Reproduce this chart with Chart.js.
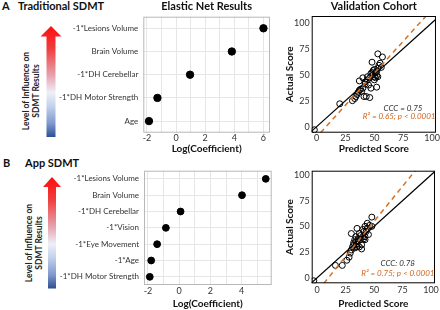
<!DOCTYPE html>
<html>
<head>
<meta charset="utf-8">
<script src="https://cdn.jsdelivr.net/npm/chart.js@4.4.1/dist/chart.umd.min.js"></script>
<style>
  body { margin: 0; background: #fff; }
  #fig { position: relative; width: 440px; height: 310px; overflow: hidden; font-family: Lato, "Open Sans", sans-serif; color: #111; }
  #fig canvas, #fig svg { position: absolute; }
  .panel { position: absolute; font-weight: bold; font-size: 11px; line-height: 12px; white-space: nowrap; }
  .influence { position: absolute; width: 110px; height: 20px; font-weight: bold; font-size: 8.5px; line-height: 10px;
               text-align: center; white-space: nowrap; transform: rotate(-90deg); color: #222; }
</style>
</head>
<body>
<div id="fig">
  <svg width="440" height="310" style="left:0;top:0">
    <defs>
      <linearGradient id="heat" x1="0" y1="0" x2="0" y2="1">
        <stop offset="0" stop-color="#ff0d0d"/>
        <stop offset="0.2" stop-color="#f03c3c"/>
        <stop offset="0.45" stop-color="#e6a5b0"/>
        <stop offset="0.6" stop-color="#eef0f8"/>
        <stop offset="0.72" stop-color="#c4d2ec"/>
        <stop offset="0.88" stop-color="#7f98cc"/>
        <stop offset="1" stop-color="#2c4f92"/>
      </linearGradient>
    </defs>
    <polygon fill="url(#heat)" points="51,26 61.5,36.5 55.5,36.5 55.5,137 46.5,137 46.5,36.5 40.5,36.5"/>
    <polygon fill="url(#heat)" points="52,177 61,187 56,187 56,288.5 48,288.5 48,187 43,187"/>
  </svg>

  <div class="panel" style="left:2px;top:0px">A</div>
  <div class="panel" style="left:18px;top:0px">Traditional SDMT</div>
  <div class="panel" style="left:3px;top:157px">B</div>
  <div class="panel" style="left:25px;top:157px">App SDMT</div>
  <div class="influence" style="left:-23.7px;top:80.7px">Level of Influence on<br>SDMT Results</div>
  <div class="influence" style="left:-21.3px;top:232.6px">Level of Influence on<br>SDMT Results</div>

  <canvas id="dotA" width="240" height="156" style="left:40px;top:0px"></canvas>
  <canvas id="dotB" width="240" height="154" style="left:40px;top:156px"></canvas>
  <canvas id="valA" width="160" height="156" style="left:280px;top:0px"></canvas>
  <canvas id="valB" width="160" height="154" style="left:280px;top:156px"></canvas>
</div>

<script>
// elastic net coefficients
const tradLabels = ['-1*Lesions Volume', 'Brain Volume', '-1*DH Cerebellar', '-1*DH Motor Strength', 'Age'];
const tradCoef = [6.0, 3.83, 0.96, -1.28, -1.86];
const appLabels = ['-1*Lesions Volume', 'Brain Volume', '-1*DH Cerebellar', '-1*Vision', '-1*Eye Movement', '-1*Age', '-1*DH Motor Strength'];
const appCoef = [5.54, 4.02, 0.09, -0.85, -1.41, -1.79, -1.88];

// validation cohort (predicted, actual)
const tradPredicted = [20, 31, 33, 34, 36, 37, 38, 39, 40, 37, 40, 42, 44, 41, 43, 46, 45, 47, 46, 44, 47, 48, 49, 50, 51, 50, 52, 48, 50, 52, 53, 54, 55, 53, 57, 56, 51, 49, 52, 53, 42, 35, -2];
const tradActual    = [22, 25, 27, 29, 33, 35, 36, 34, 37, 44, 47, 43, 45, 29, 29, 28, 40, 37, 47, 48, 51, 52, 50, 48, 47, 45, 38, 62, 55, 53, 56, 59, 61, 70, 67, 57, 52, 54, 49, 48, 41, 31, -3];
const appPredicted = [16, 22, 26, 28, 29, 30, 31, 32, 30, 33, 35, 36, 37, 38, 39, 39, 35, 40, 41, 42, 42, 44, 44, 45, 46, 48, 42, 33, 34, 37, 32, 34, 36, 38, 40, 43, 41, 35, 48, -3];
const appActual    = [12, 12, 17, 20, 24, 27, 30, 32, 43, 29, 33, 36, 30, 37, 32, 28, 48, 40, 45, 50, 37, 48, 53, 42, 51, 59, 40, 37, 40, 43, 34, 35, 38, 41, 47, 45, 38, 30, 50, -3];

// identity line and fitted line ends (where they leave the frame)
const identityLine = [-10, 110];
const tradFitLine = [[3.4, -5.8], [94.8, 106.4]];
const appFitLine = [[5.8, -5.5], [86.1, 104.2]];

const tradNotes = [['CCC = 0.75', '#333', 13.5, 24.5], ['R\u00b2 = 0.65; p < 0.0001', '#d4661b', 0.5, 16]];
const appNotes = [['CCC: 0.78', '#333', 20, 20], ['R\u00b2 = 0.75; p < 0.0001', '#d4661b', 0.5, 10]];

Chart.defaults.font.family = 'Lato, "Open Sans", sans-serif';
Chart.defaults.color = '#333';
Chart.defaults.animation = false;

const frame = {
  id: 'frame',
  afterDatasetsDraw(chart, args, opts) {
    const { ctx, chartArea: a } = chart;
    ctx.save();
    ctx.strokeStyle = opts.color;
    ctx.lineWidth = 1;
    ctx.strokeRect(a.left + 0.5, a.top + 0.5, a.right - a.left - 1, a.bottom - a.top - 1);
    ctx.restore();
  }
};

const notes = {
  id: 'notes',
  afterDraw(chart, args, opts) {
    const { ctx, chartArea: a } = chart;
    ctx.save();
    ctx.font = 'italic 8px Lato, "Open Sans", sans-serif';
    ctx.textAlign = 'right';
    ctx.textBaseline = 'middle';
    (opts.lines || []).forEach(([text, color, dx, dy]) => {
      ctx.fillStyle = color;
      ctx.fillText(text, a.right - dx, a.bottom - dy);
    });
    ctx.restore();
  }
};

// force axis thickness so the plot boxes land where the figure has them
function fixSize(size) {
  return (scale) => {
    if (scale.isHorizontal()) scale.height = size;
    else scale.width = size;
  };
}

function dotPlot(id, labels, values, o) {
  new Chart(document.getElementById(id), {
    type: 'line',
    data: {
      labels: labels,
      datasets: [{
        data: values,
        showLine: false,
        pointRadius: o.r,
        pointHoverRadius: o.r,
        pointBackgroundColor: '#000',
        pointBorderColor: '#000',
      }],
    },
    options: {
      indexAxis: 'y',
      responsive: false,
      layout: { padding: o.pad },
      plugins: {
        legend: { display: false },
        tooltip: { enabled: false },
        title: {
          display: !!o.title,
          text: o.title || '',
          fullSize: false,
          color: '#111',
          font: { size: 11, weight: 'bold' },
          padding: { top: 0, bottom: 3.5 },
        },
        frame: { color: '#b8b8b8' },
      },
      scales: {
        x: {
          type: 'linear',
          min: o.min,
          max: o.max,
          afterFit: fixSize(o.xh),
          border: { display: false },
          grid: { color: '#e6e6e6', drawTicks: false },
          ticks: {
            stepSize: 1,
            includeBounds: false,
            padding: o.tp,
            font: { size: 9 },
            callback: (v) => (v % 2 === 0 ? v : ''),
          },
          title: {
            display: true,
            text: 'Log(Coefficient)',
            color: '#111',
            font: { size: 10, weight: 'bold' },
            padding: { top: 0, bottom: o.tpb },
          },
        },
        y: {
          type: 'category',
          offset: true,
          afterFit: fixSize(o.yw),
          border: { display: false },
          grid: { color: '#e6e6e6', drawTicks: false },
          ticks: { padding: 5, font: { size: 8 }, color: '#333' },
        },
      },
    },
    plugins: [frame],
  });
}

function scatterPlot(id, xs, ys, fitLine, lines, o) {
  const points = xs.map((x, i) => ({ x: x, y: ys[i] }));
  new Chart(document.getElementById(id), {
    type: 'scatter',
    data: {
      datasets: [
        {
          data: fitLine.map(([x, y]) => ({ x, y })),
          showLine: true,
          pointRadius: 0,
          borderColor: '#d86f1e',
          borderWidth: 1.5,
          borderDash: [5, 4],
        },
        {
          data: identityLine.map((v) => ({ x: v, y: v })),
          showLine: true,
          pointRadius: 0,
          borderColor: '#000',
          borderWidth: 1.2,
        },
        {
          data: points,
          pointRadius: 3,
          pointHoverRadius: 3,
          borderColor: '#000',
          backgroundColor: 'rgba(255,255,255,0)',
          borderWidth: 1,
        },
      ],
    },
    options: {
      responsive: false,
      layout: { padding: o.pad },
      plugins: {
        legend: { display: false },
        tooltip: { enabled: false },
        title: {
          display: !!o.title,
          text: o.title || '',
          fullSize: false,
          color: '#111',
          font: { size: 11, weight: 'bold' },
          padding: { top: 0, bottom: 2.8 },
        },
        frame: { color: '#000' },
        notes: { lines: lines },
      },
      scales: {
        x: {
          type: 'linear',
          position: 'bottom',
          min: o.xmin,
          max: o.xmax,
          afterFit: fixSize(o.xh),
          border: { display: false },
          grid: { display: false, drawTicks: false },
          ticks: { stepSize: 25, includeBounds: false, padding: o.tp, font: { size: 9 } },
          title: {
            display: true,
            text: 'Predicted Score',
            color: '#111',
            font: { size: 10, weight: 'bold' },
            padding: { top: 0, bottom: o.tpb },
          },
        },
        y: {
          type: 'linear',
          position: 'left',
          min: o.ymin,
          max: o.ymax,
          afterFit: fixSize(31.7),
          border: { display: false },
          grid: { display: false, drawTicks: false },
          ticks: { stepSize: 25, includeBounds: false, padding: 2, font: { size: 9 } },
          title: {
            display: true,
            text: 'Actual Score',
            color: '#111',
            font: { size: 10, weight: 'bold' },
            padding: { top: 3.7, bottom: 0 },
          },
        },
      },
    },
    plugins: [frame, notes],
  });
}

dotPlot('dotA', tradLabels, tradCoef, {
  title: 'Elastic Net Results', r: 3.7, min: -2.25, max: 6.45,
  pad: { left: 0, right: 10, top: 0, bottom: 0 }, yw: 103.3, xh: 23.3, tp: 0, tpb: 1.5,
});
dotPlot('dotB', appLabels, appCoef, {
  r: 3.4, min: -2.25, max: 5.92,
  pad: { left: 0, right: 8.3, top: 14.7, bottom: 0 }, yw: 104, xh: 25, tp: 1, tpb: 0.5,
});
scatterPlot('valA', tradPredicted, tradActual, tradFitLine, tradNotes, {
  title: 'Validation Cohort', xmin: -4.3, xmax: 103.4, ymin: -5.8, ymax: 106.4,
  pad: { left: 0, right: 3.3, top: 0, bottom: 0 }, xh: 23.3, tp: 0, tpb: 1.5,
});
scatterPlot('valB', appPredicted, appActual, appFitLine, appNotes, {
  xmin: -4.85, xmax: 103.5, ymin: -5.45, ymax: 104.2,
  pad: { left: 0, right: 3.3, top: 14.7, bottom: 0 }, xh: 26.7, tp: 1, tpb: 0,
});
</script>
</body>
</html>
